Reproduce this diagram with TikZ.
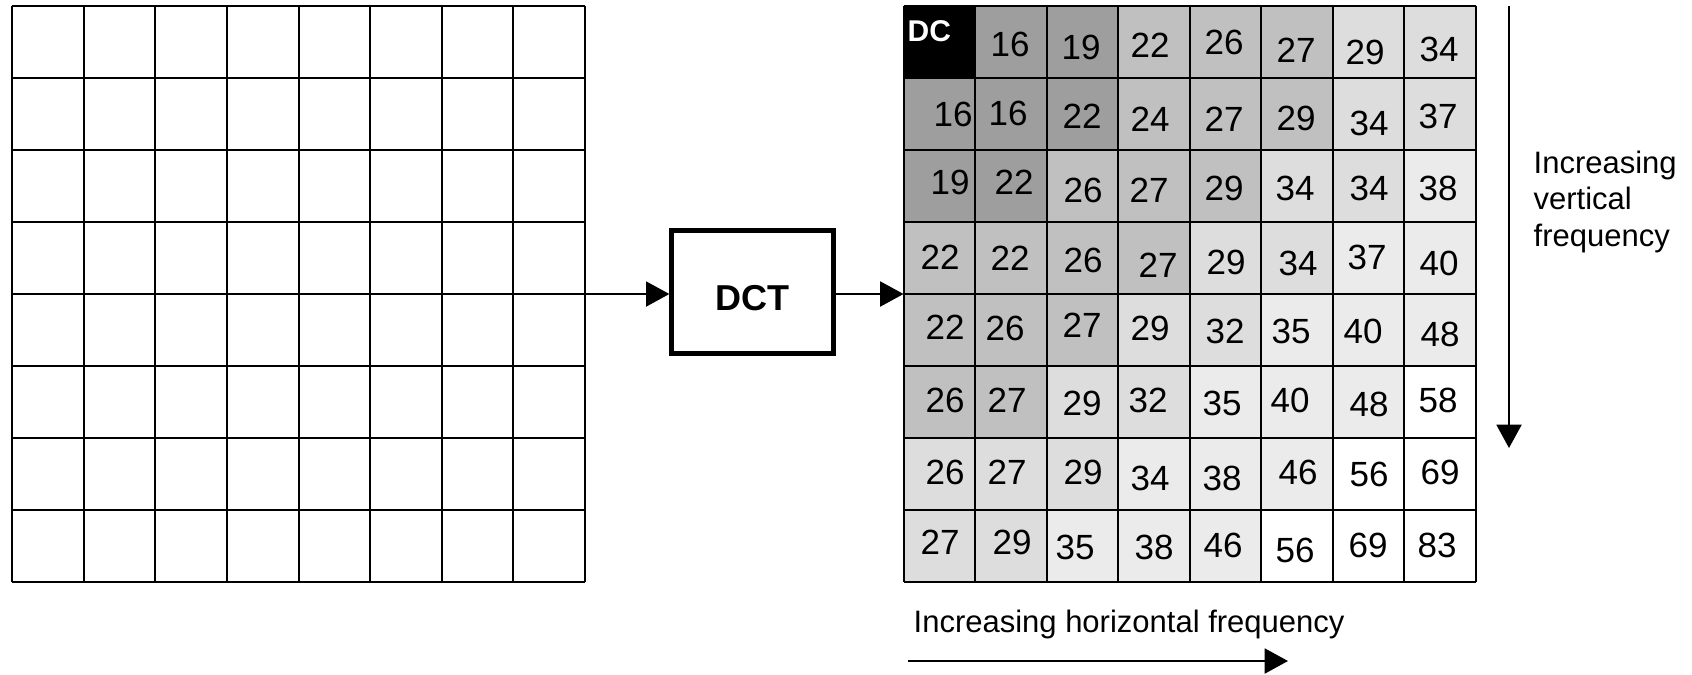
\documentclass[tikz,border=0pt]{standalone}
\usepackage{fontspec}
\setmainfont{Liberation Sans}
\usetikzlibrary{arrows.meta,positioning}

\definecolor{cK}{gray}{0}
\definecolor{cA}{HTML}{9E9E9E}
\definecolor{cB}{HTML}{C0C0C0}
\definecolor{cC}{HTML}{DDDDDD}
\definecolor{cD}{HTML}{EBEBEB}
\definecolor{cW}{gray}{1}

\tikzset{
  cellline/.style={line width=0.6pt},
  arr/.style={line width=0.6pt,-{Triangle[length=7pt,width=7.5pt]}},
  num/.style={inner sep=0pt,font=\fontsize{10.5}{12}\selectfont},
  label/.style={inner sep=0pt,font=\fontsize{9.3}{11}\selectfont},
  dctbox/.style={draw,line width=1.35pt,minimum width=48.6pt,minimum height=36.8pt,
    inner sep=0pt,text height=11.3pt,text depth=0pt,font=\fontsize{10.8}{12}\selectfont\bfseries}
}

\begin{document}
\begin{tikzpicture}[x=0.3pt,y=-0.3pt]
  \useasboundingbox (0,0) rectangle (1692,674);

  % shaded coefficient cells
  \foreach \row/\shades in {0/{K,A,A,B,B,B,C,C},1/{A,A,A,B,B,B,C,C},
      2/{A,A,B,B,B,C,C,D},3/{B,B,B,B,C,C,D,D},4/{B,B,B,C,C,D,D,D},
      5/{B,B,C,C,D,D,D,W},6/{C,C,C,D,D,D,W,W},7/{C,C,D,D,D,W,W,W}}
    \foreach \s [count=\c from 0] in \shades
      \fill[fill=c\s] ({903.5+71.56*\c},{6+72*\row}) rectangle ++(71.56,72);

  % the two 8x8 grids
  \foreach \i in {0,...,8} {
    \draw[cellline] ({12+71.625*\i},6) -- ({12+71.625*\i},582);
    \draw[cellline] (12,{6+72*\i}) -- (585,{6+72*\i});
    \draw[cellline] ({903.5+71.56*\i},6) -- ({903.5+71.56*\i},582);
    \draw[cellline] (903.5,{6+72*\i}) -- (1476,{6+72*\i});
  }

  % coefficients
  \node[inner sep=0pt,anchor=north west,text=white,font=\fontsize{9}{10}\selectfont\bfseries]
    (dc) at (907,20) {DC};
  \foreach \v/\x/\y [count=\k] in {
      16/1010/44, 19/1081/47, 22/1150/45, 26/1224/42, 27/1296/50, 29/1365/52, 34/1439/49,
      16/953/114, 16/1008/113, 22/1082/116, 24/1150/119, 27/1224/119, 29/1296/118, 34/1369/123, 37/1438/116,
      19/950/182, 22/1014/182, 26/1083/190, 27/1149/190, 29/1224/188, 34/1295/188, 34/1369/188, 38/1438/188,
      22/940/257, 22/1010/258, 26/1083/260, 27/1158/265, 29/1226/262, 34/1298/263, 37/1367/257, 40/1439/263,
      22/945/327, 26/1005/328, 27/1082/325, 29/1150/328, 32/1225/331, 35/1291/331, 40/1363/331, 48/1440/334,
      26/945/400, 27/1007/400, 29/1082/403, 32/1148/400, 35/1222/403, 40/1290/400, 48/1369/404, 58/1438/400,
      26/945/472, 27/1007/472, 29/1083/472, 34/1150/478, 38/1222/478, 46/1298/472, 56/1369/474, 69/1440/472,
      27/940/542, 29/1012/542, 35/1075/547, 38/1154/547, 46/1223/545, 56/1295/550, 69/1368/545, 83/1437/545}
    \node[num] (q\k) at (\x,\y) {\v};

  % transform block
  \coordinate (pix-e) at (585,294);
  \coordinate (coef-w) at (903.5,294);
  \node[dctbox] (dct) at (752.6,292) {DCT};
  \draw[arr] (pix-e) -- (pix-e -| dct.west);
  \draw[arr] (coef-w -| dct.east) -- (coef-w);

  % frequency directions
  \node[label,anchor=base west] (hlab) at (913,632) {Increasing horizontal frequency};
  \coordinate (h0) at (908,661);
  \coordinate (h1) at (1288,661);
  \draw[arr] (h0) -- (h1);
  \node[label,anchor=north west,align=left] (vlab) at (1533,150) {Increasing\\vertical\\frequency};
  \coordinate (v0) at (1509,6);
  \coordinate (v1) at (1509,448);
  \draw[arr] (v0) -- (v1);
\end{tikzpicture}
\end{document}
